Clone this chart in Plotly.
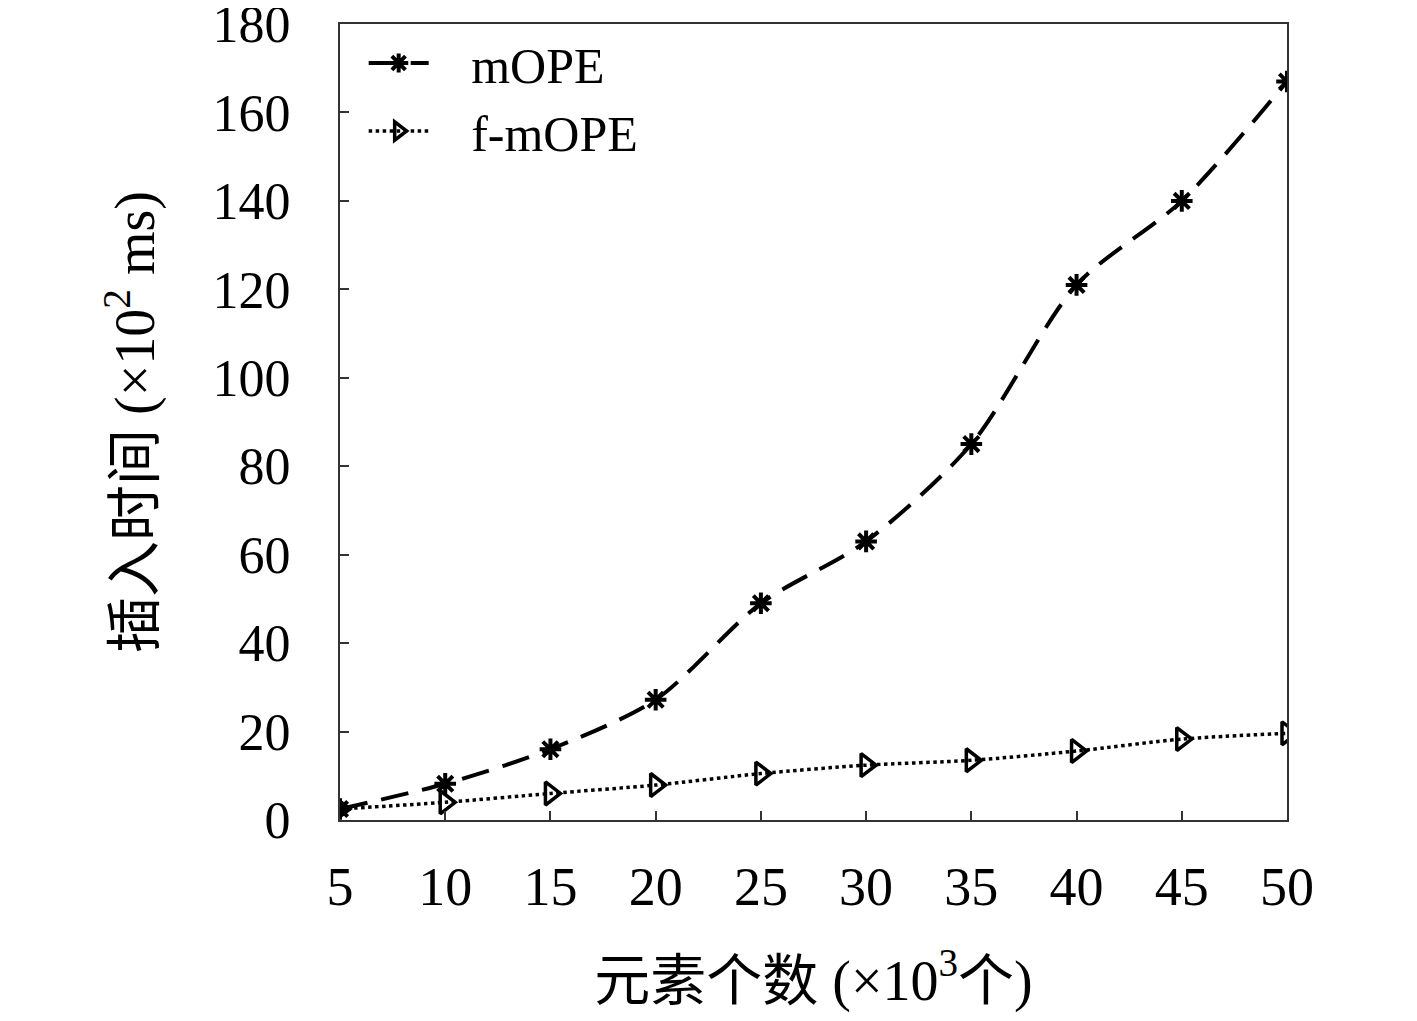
import plotly.graph_objects as go

# Data
elements = [5, 10, 15, 20, 25, 30, 35, 40, 45, 50]          # x 10^3
mope = [2.5, 8.2, 16.0, 27.2, 49.0, 63.0, 85.0, 121.0, 140.0, 167.0]
f_mope = [2.5, 4.0, 6.0, 7.9, 10.5, 12.4, 13.5, 15.6, 18.3, 19.6]
x_ticks = [5, 10, 15, 20, 25, 30, 35, 40, 45, 50]
y_ticks = [0, 20, 40, 60, 80, 100, 120, 140, 160, 180]

serif = "Liberation Serif, DejaVu Serif, Noto Sans CJK SC, serif"
pad = "\u00a0\u00a0\u00a0"  # push legend text right, like the longer sample line in the original

fig = go.Figure()

fig.add_trace(go.Scatter(
    x=elements, y=mope, name=pad + "mOPE",
    mode="lines+markers",
    line=dict(color="black", width=4, dash="28px,14px", shape="spline", smoothing=0.8),
    marker=dict(symbol="asterisk-open", size=18, color="black",
                line=dict(color="black", width=4)),
))

fig.add_trace(go.Scatter(
    x=elements, y=f_mope, name=pad + "f-mOPE",
    mode="lines+markers",
    line=dict(color="black", width=3.5, dash="dot", shape="spline", smoothing=0.8),
    marker=dict(symbol="triangle-right-open", size=20, color="black",
                line=dict(color="black", width=3.5)),
))

axis_common = dict(
    showgrid=False, zeroline=False, automargin=False,
    showline=True, linecolor="#333333", linewidth=2, mirror=True,
    ticks="inside", ticklen=9, tickwidth=1.5, tickcolor="#333333",
    ticklabeloverflow="allow",
)

fig.update_xaxes(
    range=[5, 50], tickvals=x_ticks,
    tickfont=dict(family=serif, size=54, color="black"),
    ticklabelstandoff=18,
    title=dict(text="元素个数 (×10<sup>3</sup>个)", standoff=45,
               font=dict(family=serif, size=56, color="black")),
    **axis_common,
)
fig.update_yaxes(
    range=[0, 180], tickvals=y_ticks,
    tickfont=dict(family=serif, size=52, color="black"),
    ticklabelstandoff=37,
    title=dict(text="插入时间 (×10<sup>2</sup> ms)", standoff=40,
               font=dict(family=serif, size=56, color="black")),
    **axis_common,
)

fig.update_layout(
    width=1401, height=1005,
    margin=dict(l=332, r=122, t=16, b=193),
    paper_bgcolor="white", plot_bgcolor="white",
    font=dict(family=serif, color="black"),
    showlegend=True,
    legend=dict(x=0.025, y=1.0, xanchor="left", yanchor="top",
                bgcolor="rgba(0,0,0,0)", borderwidth=0,
                font=dict(family=serif, size=50, color="black"),
                tracegroupgap=0, itemwidth=60),
)

fig.write_html("out.html")
